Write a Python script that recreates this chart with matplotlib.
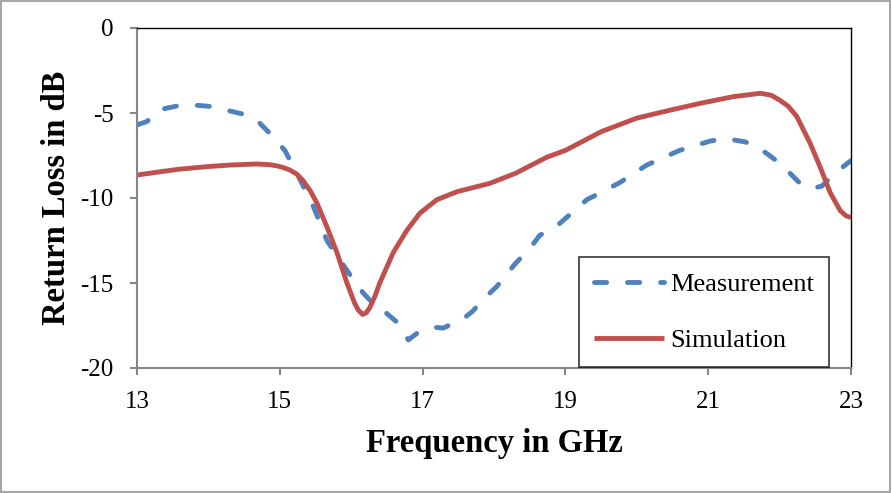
import matplotlib
matplotlib.use("Agg")
import matplotlib.pyplot as plt
from matplotlib.patches import Rectangle

plt.rcParams['font.family'] = ['Liberation Serif', 'DejaVu Serif']

# Simulation (red solid)
sim_f = [13.0, 13.3, 13.6, 14.0, 14.3, 14.68, 14.86, 14.96, 15.05, 15.14, 15.24,
         15.33, 15.43, 15.52, 15.66, 15.80, 15.94, 16.05, 16.10, 16.16, 16.21,
         16.26, 16.33, 16.40, 16.59, 16.78, 16.96, 17.20, 17.48, 17.94, 18.3,
         18.74, 19.0, 19.5, 20.0, 20.5, 20.89, 21.35, 21.73, 21.88, 22.0, 22.12,
         22.24, 22.43, 22.57, 22.71, 22.85, 22.93, 23.0]
sim_v = [-8.65, -8.47, -8.3, -8.15, -8.06, -8.0, -8.04, -8.11, -8.21, -8.35, -8.6,
         -9.0, -9.6, -10.3, -11.7, -13.2, -15.0, -16.2, -16.6, -16.85, -16.75,
         -16.45, -15.8, -15.0, -13.2, -11.9, -10.9, -10.1, -9.63, -9.14, -8.55,
         -7.6, -7.2, -6.1, -5.3, -4.8, -4.43, -4.04, -3.84, -3.95, -4.24, -4.6,
         -5.2, -6.8, -8.2, -9.7, -10.75, -11.05, -11.15]

# Measurement (blue dashed)
meas_f = [13.0, 13.14, 13.30, 13.56, 13.79, 14.07, 14.28, 14.54, 14.72, 14.93,
          15.07, 15.24, 15.47, 15.66, 15.80, 15.98, 16.17, 16.26, 16.50, 16.64,
          16.80, 16.92, 17.15, 17.29, 17.57, 17.69, 17.94, 18.04, 18.27, 18.55,
          18.64, 18.92, 19.30, 19.44, 19.76, 20.14, 20.28, 20.60, 21.03, 21.24,
          21.52, 21.73, 21.94, 22.10, 22.31, 22.47, 22.59, 22.75, 22.92, 23.0]
meas_v = [-5.7, -5.5, -4.82, -4.59, -4.53, -4.63, -4.86, -5.12, -5.6, -6.5,
          -7.2, -8.55, -10.5, -12.5, -13.4, -14.5, -15.6, -16.0, -16.8, -17.3,
          -18.35, -17.96, -17.6, -17.65, -17.1, -16.7, -15.6, -15.2, -14.0, -12.7,
          -12.2, -11.5, -10.1, -9.8, -9.1, -8.06, -7.8, -7.2, -6.65, -6.5,
          -6.7, -7.1, -7.76, -8.35, -9.24, -9.43, -9.3, -8.65, -8.06, -7.8]

xticks = [13, 15, 17, 19, 21, 23]
yticks = [0, -5, -10, -15, -20]

fig = plt.figure(figsize=(8.92, 4.93), dpi=100)
ax = fig.add_axes([137/892, 1-368/493, (851-137)/892, (368-28)/493])

ax.plot(meas_f, meas_v, color='#4F81BD', lw=3.5, linestyle=(0, (2.5, 4.3)),
        dash_capstyle='round', dash_joinstyle='round', label='Measurement')
ax.plot(sim_f, sim_v, color='#C0504D', lw=3.5, solid_joinstyle='round',
        solid_capstyle='butt', label='Simulation')

ax.set_xlim(13, 23)
ax.set_ylim(-20, 0)
ax.set_xticks(xticks)
ax.set_yticks(yticks)
ax.set_xticklabels([str(t) for t in xticks])
ax.set_yticklabels([str(t) for t in yticks])

for s in ['left', 'bottom']:
    ax.spines[s].set_color('#868686')
    ax.spines[s].set_linewidth(1.5)
for s in ['top', 'right']:
    ax.spines[s].set_color('black')
    ax.spines[s].set_linewidth(1.0)

ax.tick_params(axis='both', direction='out', color='#868686', width=1.5, length=5,
               labelsize=18)
ax.tick_params(axis='x', pad=11.5)
ax.tick_params(axis='y', pad=12)

ax.set_xlabel('Frequency in GHz', fontsize=23.5, fontweight='bold', labelpad=11)
ax.set_ylabel('Return Loss in dB', fontsize=23.5, fontweight='bold', labelpad=6)

leg = ax.legend(loc='lower right', bbox_to_anchor=(829/892, 1-367/493),
                bbox_transform=fig.transFigure, fontsize=19, frameon=True,
                fancybox=False, edgecolor='black', handlelength=2.65,
                labelspacing=1.24, borderpad=0.57, handletextpad=0.22,
                borderaxespad=0)
leg.get_frame().set_linewidth(1.2)

fig.patches.append(Rectangle((0.001, 0.002), 0.997, 0.995, transform=fig.transFigure,
                             fill=False, edgecolor='#A6A6A6', linewidth=1.5))

fig.savefig('out.png', dpi=100)
